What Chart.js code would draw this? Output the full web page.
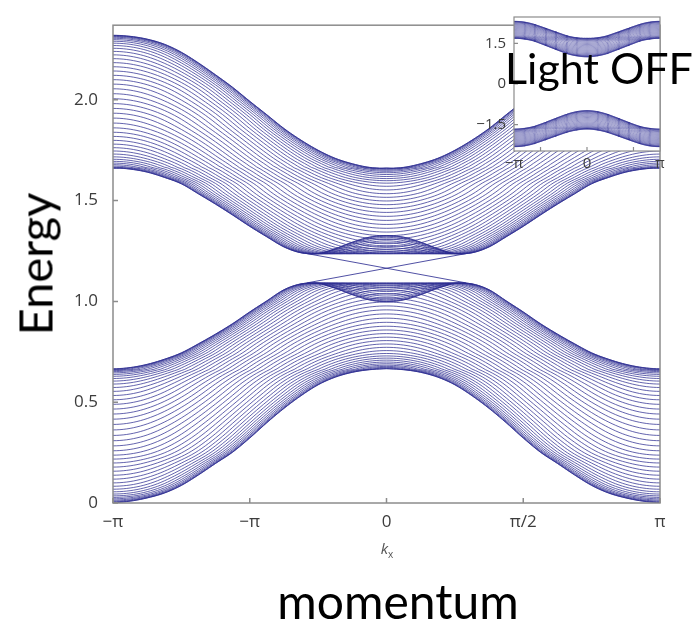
<!DOCTYPE html>
<html>
<head>
<meta charset="utf-8">
<script src="https://cdn.jsdelivr.net/npm/chart.js@4.4.0/dist/chart.umd.min.js"></script>
<style>
  html, body { margin: 0; padding: 0; background: #ffffff; }
  #wrap { position: relative; width: 695px; height: 625px; overflow: hidden; background: #fff; }
  #main { position: absolute; left: 0; top: 0; width: 695px; height: 625px; }
  #inset { position: absolute; left: 470px; top: 0; width: 225px; height: 180px; }
  .big { position: absolute; font-family: Lato, "Open Sans", sans-serif; line-height: 1; color: #000; white-space: nowrap; }
  #energy { left: 35px; top: 264px; font-size: 47px; transform: translate(-50%, -50%) rotate(-90deg); }
  #momentum { left: 398px; top: 577px; font-size: 48px; transform: translateX(-50%); }
  #light { left: 505px; top: 46px; font-size: 43px; }
  #kx { position: absolute; left: 387px; top: 538px; transform: translateX(-50%); font-family: "Open Sans", sans-serif; font-size: 15px; color: #555; }
  #kx sub { font-size: 10px; font-style: normal; }
</style>
</head>
<body>
<div id="wrap">
  <canvas id="main" width="695" height="625"></canvas>
  <canvas id="inset" width="225" height="180"></canvas>
  <div id="energy" class="big">Energy</div>
  <div id="momentum" class="big">momentum</div>
  <div id="light" class="big">Light OFF</div>
  <div id="kx"><i>k</i><sub>x</sub></div>
</div>
<script>
// ---- band data: energies sampled along |kx| = 0 … π (step π/16) ----
// outermost sub-bands of each group: the ky = 0 line and the ky = π line
const upperKy0  = [1.327, 1.319, 1.294, 1.262, 1.238, 1.241, 1.270, 1.320, 1.372, 1.428, 1.482, 1.533, 1.583, 1.615, 1.641, 1.656, 1.662];
const upperKyPi = [1.660, 1.665, 1.683, 1.710, 1.750, 1.800, 1.858, 1.926, 1.993, 2.062, 2.124, 2.183, 2.236, 2.276, 2.301, 2.315, 2.320];
const lowerKy0  = [0.998, 1.007, 1.033, 1.065, 1.089, 1.087, 1.058, 1.003, 0.948, 0.890, 0.838, 0.790, 0.745, 0.713, 0.688, 0.672, 0.666];
const lowerKyPi = [0.665, 0.661, 0.648, 0.624, 0.586, 0.532, 0.469, 0.398, 0.322, 0.252, 0.196, 0.139, 0.087, 0.049, 0.025, 0.009, 0.002];

// edge states crossing the gap (kx in units of π)
const edgeKx     = [-0.29, 0.29];
const edgeStateA = [1.237, 1.092];
const edgeStateB = [1.092, 1.237];

// inset (no light): sampled along |kx| = 0 … π (step π/8)
const insetUpperKy0  = [1.00, 1.03, 1.10, 1.22, 1.35, 1.48, 1.60, 1.66, 1.69];
const insetUpperKyPi = [1.68, 1.70, 1.76, 1.87, 1.99, 2.11, 2.22, 2.29, 2.31];
const insetLowerKy0  = [-0.98, -1.01, -1.09, -1.21, -1.34, -1.47, -1.58, -1.64, -1.66];
const insetLowerKyPi = [-1.66, -1.69, -1.76, -1.87, -1.99, -2.11, -2.22, -2.29, -2.31];

// ticks
const xTickValues = [-1, -0.5, 0, 0.5, 1];
const xTickLabels = ['−π', '−π', '0', 'π/2', 'π'];
const yTickValues = [0, 0.5, 1, 1.5, 2];
const yTickLabels = ['0', '0.5', '1.0', '1.5', '2.0'];
const insetXTickValues = [-1, 0, 1];
const insetXTickLabels = ['−π', '0', 'π'];
const insetXMarksRad = [-2, 0, 2];
const insetYTickValues = [-1.5, 0, 1.5];
const insetYTickLabels = ['−1.5', '0', '1.5'];

// ---- building the sub-band lines ----
const SUBBANDS = 46;          // ky slices per band (main panel)
const INSET_SUBBANDS = 26;    // ky slices per band (inset)
const KX_STEPS = 160;         // resolution along kx
const LINE_COLOR = 'rgba(44, 44, 145, 0.92)';

// smooth lookup in a curve sampled on |kx| ∈ [0, π]; the curve is even about 0 and π
function sampleCurve(vals, u) {
  const n = vals.length - 1;
  const t = Math.min(Math.max(u, 0), 1) * n;
  const i = Math.min(Math.floor(t), n - 1);
  const s = t - i;
  const at = j => vals[j < 0 ? -j : (j > n ? 2 * n - j : j)];
  const p0 = at(i - 1), p1 = at(i), p2 = at(i + 1), p3 = at(i + 2);
  return 0.5 * (2 * p1 + (-p0 + p2) * s + (2 * p0 - 5 * p1 + 4 * p2 - p3) * s * s +
                (-p0 + 3 * p1 - 3 * p2 + p3) * s * s * s);
}

// energy of a band at lattice "distance" w = 2 - cos kx - cos ky (0 … 4),
// taken from the ky = 0 line (w ≤ 2) or the ky = π line (w > 2)
function bandEnergy(w, ky0Vals, kyPiVals) {
  const clamp = v => Math.max(-1, Math.min(1, v));
  if (w <= 2) return sampleCurve(ky0Vals, Math.acos(clamp(1 - w)) / Math.PI);
  return sampleCurve(kyPiVals, Math.acos(clamp(3 - w)) / Math.PI);
}

const kxGrid = [];
for (let i = 0; i <= KX_STEPS; i++) kxGrid.push(-1 + 2 * i / KX_STEPS);

function lineSet(data, width) {
  return { data, borderColor: LINE_COLOR, borderWidth: width, pointRadius: 0, tension: 0, fill: false };
}

function bandLines(ky0Vals, kyPiVals, count, width) {
  const sets = [];
  for (let m = 0; m < count; m++) {
    const ky = Math.PI * m / (count - 1);
    const data = kxGrid.map(k => ({
      x: k,
      y: bandEnergy(2 - Math.cos(k * Math.PI) - Math.cos(ky), ky0Vals, kyPiVals)
    }));
    sets.push(lineSet(data, width));
  }
  return sets;
}

// ---- plugins: frame, inward tick marks, white plot background ----
const frameTicks = {
  id: 'frameTicks',
  beforeDraw(chart, args, opts) {
    if (!opts.fill) return;
    const a = chart.chartArea, ctx = chart.ctx;
    ctx.save();
    ctx.fillStyle = opts.fill;
    ctx.fillRect(a.left, a.top, a.right - a.left, a.bottom - a.top);
    ctx.restore();
  },
  afterDraw(chart, args, opts) {
    const a = chart.chartArea, ctx = chart.ctx;
    const x = chart.scales.x, y = chart.scales.y;
    ctx.save();
    ctx.strokeStyle = opts.color;
    ctx.lineWidth = opts.width;
    ctx.strokeRect(a.left, a.top, a.right - a.left, a.bottom - a.top);
    ctx.beginPath();
    opts.xMarks.forEach(v => {
      const px = x.getPixelForValue(v);
      ctx.moveTo(px, a.bottom); ctx.lineTo(px, a.bottom - opts.length);
    });
    opts.yMarks.forEach(v => {
      const py = y.getPixelForValue(v);
      ctx.moveTo(a.left, py); ctx.lineTo(a.left + opts.length, py);
    });
    ctx.stroke();
    ctx.restore();
  }
};

const tickFont = { family: '"Open Sans", sans-serif', size: 17 };
const insetTickFont = { family: '"Open Sans", sans-serif', size: 15 };
const TICK_COLOR = '#3c3c3c';

// ---- main chart ----
const mainSets = [
  ...bandLines(upperKy0, upperKyPi, SUBBANDS, 0.8),
  ...bandLines(lowerKy0, lowerKyPi, SUBBANDS, 0.8),
  lineSet(edgeKx.map((k, i) => ({ x: k, y: edgeStateA[i] })), 0.9),
  lineSet(edgeKx.map((k, i) => ({ x: k, y: edgeStateB[i] })), 0.9)
];

new Chart(document.getElementById('main'), {
  type: 'line',
  data: { datasets: mainSets },
  options: {
    responsive: false,
    animation: false,
    events: [],
    layout: { padding: { left: 0, top: 12, right: 35, bottom: 0 } },
    scales: {
      x: {
        type: 'linear', min: -1, max: 1,
        afterBuildTicks: s => { s.ticks = xTickValues.map(v => ({ value: v })); },
        afterFit: s => { s.height = 122; },
        grid: { display: false, drawTicks: false },
        border: { display: false },
        ticks: { autoSkip: false, maxRotation: 0, padding: 9, color: TICK_COLOR, font: tickFont,
                 callback: (v, i) => xTickLabels[i] }
      },
      y: {
        type: 'linear', min: 0, max: 2.37,
        afterBuildTicks: s => { s.ticks = yTickValues.map(v => ({ value: v })); },
        afterFit: s => { s.width = 113; },
        grid: { display: false, drawTicks: false },
        border: { display: false },
        ticks: { autoSkip: false, padding: 15, color: TICK_COLOR, font: tickFont,
                 callback: (v, i) => yTickLabels[i] }
      }
    },
    plugins: {
      legend: { display: false },
      tooltip: { enabled: false },
      frameTicks: { color: '#8c8c8c', width: 1.5, length: 5,
                    xMarks: xTickValues, yMarks: yTickValues }
    }
  },
  plugins: [frameTicks]
});

// ---- inset chart (light off) ----
const insetSets = [
  ...bandLines(insetUpperKy0, insetUpperKyPi, INSET_SUBBANDS, 0.6),
  ...bandLines(insetLowerKy0, insetLowerKyPi, INSET_SUBBANDS, 0.6)
];

new Chart(document.getElementById('inset'), {
  type: 'line',
  data: { datasets: insetSets },
  options: {
    responsive: false,
    animation: false,
    events: [],
    layout: { padding: { left: 0, top: 11, right: 35, bottom: 0 } },
    scales: {
      x: {
        type: 'linear', min: -1, max: 1,
        afterBuildTicks: s => { s.ticks = insetXTickValues.map(v => ({ value: v })); },
        afterFit: s => { s.height = 29; },
        grid: { display: false, drawTicks: false },
        border: { display: false },
        ticks: { autoSkip: false, maxRotation: 0, padding: 4, color: TICK_COLOR, font: insetTickFont,
                 callback: (v, i) => insetXTickLabels[i] }
      },
      y: {
        type: 'linear', min: -2.47, max: 2.47,
        afterBuildTicks: s => { s.ticks = insetYTickValues.map(v => ({ value: v })); },
        afterFit: s => { s.width = 44; },
        grid: { display: false, drawTicks: false },
        border: { display: false },
        ticks: { autoSkip: false, padding: 8, color: TICK_COLOR, font: insetTickFont,
                 callback: (v, i) => insetYTickLabels[i] }
      }
    },
    plugins: {
      legend: { display: false },
      tooltip: { enabled: false },
      frameTicks: { color: '#8c8c8c', width: 1.2, length: 4, fill: '#ffffff',
                    xMarks: insetXMarksRad.map(r => r / Math.PI), yMarks: insetYTickValues }
    }
  },
  plugins: [frameTicks]
});
</script>
</body>
</html>
